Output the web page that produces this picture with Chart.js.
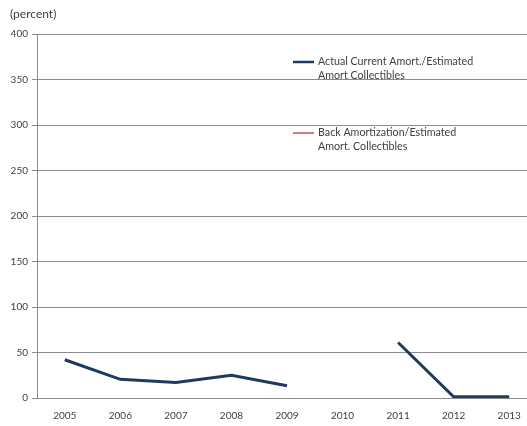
<!DOCTYPE html>
<html lang="en">
<head>
    <meta charset="UTF-8">
    <title>Amortization collectibles</title>
    <script src="https://cdn.jsdelivr.net/npm/chart.js"></script>
    <style>
        body { margin: 0; background: #fff; overflow: hidden; }
    </style>
</head>
<body>
    <canvas id="myChart" width="537" height="426"></canvas>

    <script>
        // dados
        const years = ['2005', '2006', '2007', '2008', '2009', '2010', '2011', '2012', '2013'];
        const actualCurrent = [42, 20.5, 17, 25, 13.5, null, 61, 1.3, 1.3];
        const backAmort = [null, null, null, null, null, null, null, null, null];
        const seriesNames = [
            ['Actual Current Amort./Estimated', 'Amort Collectibles'],
            ['Back Amortization/Estimated', 'Amort. Collectibles']
        ];
        const yTicks = [0, 50, 100, 150, 200, 250, 300, 350, 400];

        const FONT = 'Lato, "Liberation Sans", sans-serif';
        const TXT = '#404040';

        // legenda desenhada dentro da área do gráfico
        const innerLegend = {
            id: 'innerLegend',
            afterDraw(chart) {
                const ctx = chart.ctx;
                const spots = [62, 133];
                ctx.save();
                ctx.font = '10.7px ' + FONT;
                ctx.textBaseline = 'middle';
                chart.data.datasets.forEach((ds, i) => {
                    const y = spots[i];
                    ctx.strokeStyle = ds.borderColor;
                    ctx.lineWidth = i === 0 ? 2.5 : 1.5;
                    ctx.beginPath();
                    ctx.moveTo(293, y);
                    ctx.lineTo(314, y);
                    ctx.stroke();
                    ctx.fillStyle = TXT;
                    seriesNames[i].forEach((line, j) => ctx.fillText(line, 318, y + j * 14));
                });
                ctx.font = '12px ' + FONT;
                ctx.fillStyle = TXT;
                ctx.fillText('(percent)', 10, 14);
                ctx.restore();
            }
        };

        const ctx = document.getElementById('myChart').getContext('2d');
        const chart = new Chart(ctx, {
            type: 'line',
            data: {
                labels: years,
                datasets: [{
                    label: seriesNames[0].join(' '),
                    data: actualCurrent,
                    borderColor: '#1f3a60',
                    borderWidth: 3,
                    pointRadius: 0,
                    spanGaps: false,
                    tension: 0
                }, {
                    label: seriesNames[1].join(' '),
                    data: backAmort,
                    borderColor: '#c0504d',
                    borderWidth: 1.5,
                    pointRadius: 0
                }]
            },
            options: {
                responsive: false,
                animation: { duration: 0 },
                layout: { padding: { top: 34, left: 0, right: 0, bottom: 0 } },
                plugins: {
                    legend: { display: false },
                    tooltip: { enabled: false }
                },
                scales: {
                    x: {
                        offset: true,
                        grid: { display: false, drawTicks: false },
                        border: { display: true, color: '#8c8c8c', width: 1 },
                        ticks: {
                            color: TXT,
                            font: { family: FONT, size: 10 },
                            padding: 12,
                            maxRotation: 0,
                            autoSkip: false
                        },
                        afterFit(scale) { scale.height = 28; }
                    },
                    y: {
                        min: 0,
                        max: 400,
                        afterBuildTicks(scale) { scale.ticks = yTicks.map(v => ({ value: v })); },
                        grid: { color: '#8c8c8c', lineWidth: 1, tickLength: 5 },
                        border: { display: true, color: '#8c8c8c', width: 1 },
                        ticks: {
                            color: TXT,
                            font: { family: FONT, size: 10 },
                            padding: 4
                        },
                        afterFit(scale) { scale.width = 37; }
                    }
                }
            },
            plugins: [innerLegend]
        });
    </script>
</body>
</html>
